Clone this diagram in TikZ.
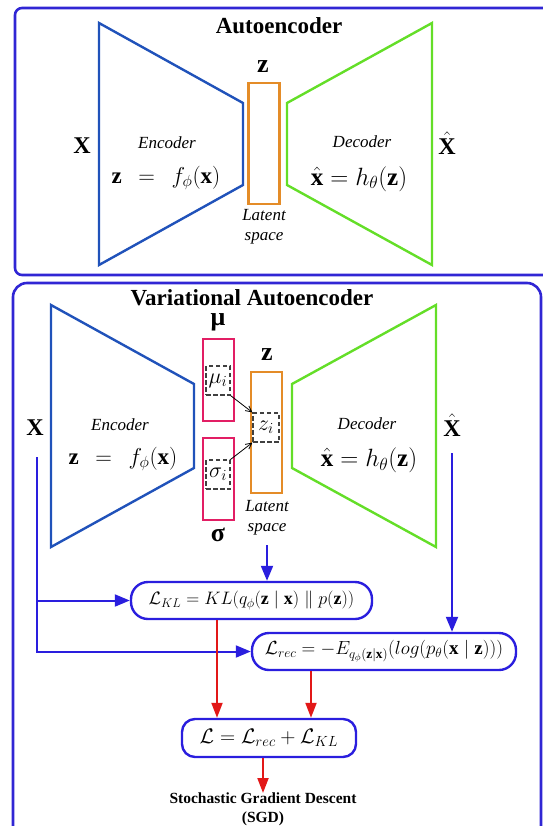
\RequirePackage{fix-cm}
\documentclass[tikz,border=0pt]{standalone}
\usepackage{fontspec}
\setmainfont{Liberation Serif}
\usetikzlibrary{arrows.meta}
\definecolor{framec}{RGB}{48,38,212}
\definecolor{encc}{RGB}{32,82,186}
\definecolor{decc}{RGB}{100,222,40}
\definecolor{latc}{RGB}{228,140,40}
\definecolor{pinkc}{RGB}{226,30,100}
\definecolor{redc}{RGB}{226,24,24}
\definecolor{conc}{RGB}{42,30,222}
\newcommand{\fsz}[1]{\fontsize{#1}{#1}\selectfont}
\tikzset{
  frame/.style={draw=framec, line width=2.6pt},
  encpath/.style={draw=encc, line width=2.4pt, line join=miter},
  decpath/.style={draw=decc, line width=2.4pt, line join=miter},
  latbox/.style={draw=latc, line width=2.4pt, inner sep=0pt, minimum width=31pt, minimum height=121pt},
  pinkbox/.style={draw=pinkc, line width=2.4pt, inner sep=0pt, minimum width=31pt, minimum height=82pt},
  dashbox/.style={draw=black!75, line width=1.1pt, dash pattern=on 4.5pt off 2.5pt, inner sep=0pt, minimum width=24pt, minimum height=29pt, font=\fsz{22}},
  title/.style={font=\bfseries\fsz{23}, inner sep=0pt},
  lab/.style={font=\itshape\fsz{17}, inner sep=0pt},
  formula/.style={font=\fsz{23}, inner sep=0pt},
  decformula/.style={font=\fsz{25}, inner sep=0pt},
  bigx/.style={font=\bfseries\fsz{24}, inner sep=0pt},
  lossbox/.style={draw=conc, line width=2.4pt, rounded corners=17pt, inner sep=0pt, minimum height=37pt, font=\fsz{18}},
  bluearrow/.style={draw=conc, line width=2pt, -{Triangle[length=15pt,width=12pt]}},
  redarrow/.style={draw=redc, line width=2pt, -{Triangle[length=15pt,width=11pt]}},
  thinarrow/.style={draw=black, line width=0.8pt, -{Straight Barb[length=6pt,width=6pt]}}
}
\begin{document}
\begin{tikzpicture}[x=1pt,y=-1pt]
\useasboundingbox (0,0) rectangle (542,826);
% ---------- frames ----------
\draw[frame, rounded corners=7pt] (560,8) -- (15,8) -- (15,275) -- (560,275);
\draw[frame, rounded corners=14pt] (13,850) -- (13,283) -- (541,283) -- (541,850);

% ---------- Autoencoder ----------
\node[title] (aetitle) at (279,26) {Autoencoder};
\draw[encpath] (99,23) -- (243,103) -- (243,185) -- (99,265) -- cycle;
\draw[decpath] (287,103) -- (432,23) -- (432,265) -- (287,185) -- cycle;
\node[latbox] (aelat) at (264,143.5) {};
\node[font=\bfseries\fsz{26}, inner sep=0pt] (aezl) at (263,67) {z};
\node[bigx] (aex) at (82,146) {X};
\node[bigx] (aexh) at (447,143) {$\hat{\textbf{X}}$};
\node[lab] (aeenc) at (167,143) {Encoder};
\node[formula] (aeencf) at (166,178) {$\mathbf{z}\;\,=\;\,f_\phi(\mathbf{x})$};
\node[lab] (aedec) at (362,142) {Decoder};
\node[decformula] (aedecf) at (359,179) {$\hat{\mathbf{x}}=h_\theta(\mathbf{z})$};
\node[lab, align=center] (aelatl) at (264,227) {Latent\\[3pt]space};

% ---------- Variational Autoencoder ----------
\node[title] (vaetitle) at (252,298) {Variational Autoencoder};
\draw[encpath] (51,305) -- (194,384) -- (194,468) -- (51,547) -- cycle;
\draw[decpath] (292,384) -- (436,305) -- (436,547) -- (292,468) -- cycle;
\node[pinkbox] (mubox) at (218.5,380) {};
\node[pinkbox] (sigbox) at (218.5,479) {};
\node[latbox] (vlat) at (266.5,432.5) {};
\node[dashbox] (mui) at (218,380.5) {$\mu_i$};
\node[dashbox] (sigi) at (218,474.5) {$\sigma_i$};
\node[dashbox, minimum width=26pt] (zi) at (266,427.5) {$z_i$};
\draw[thinarrow] (mui.south east) -- (zi.north west);
\draw[thinarrow] (sigi.north east) -- (zi.south west);
\node[font=\bfseries\fsz{26}, inner sep=0pt] (mul) at (218,322) {μ};
\node[font=\bfseries\fsz{26}, inner sep=0pt] (sigl) at (218,535) {σ};
\node[font=\bfseries\fsz{26}, inner sep=0pt] (vzl) at (267,355) {z};
\node[bigx] (vx) at (35,428) {X};
\node[bigx] (vxh) at (452,425) {$\hat{\textbf{X}}$};
\node[lab] (venc) at (120,425) {Encoder};
\node[formula] (vencf) at (123,459) {$\mathbf{z}\;\,=\;\,f_\phi(\mathbf{x})$};
\node[lab] (vdec) at (367,424) {Decoder};
\node[decformula] (vdecf) at (369,460) {$\hat{\mathbf{x}}=h_\theta(\mathbf{z})$};
\node[lab, align=center] (vlatl) at (267,518) {Latent\\[3pt]space};

% ---------- losses ----------
\node[lossbox, minimum width=241pt] (kl) at (251.5,600.5)
  {$\mathcal{L}_{KL}=KL(q_\phi(\mathbf{z}\mid\mathbf{x})\parallel p(\mathbf{z}))$};
\node[lossbox, minimum width=264pt, font=\fsz{19}] (rec) at (384,651.5)
  {$\mathcal{L}_{rec}=-E_{q_\phi(\mathbf{z}|\mathbf{x})}(log(p_\theta(\mathbf{x}\mid\mathbf{z})))$};
\node[lossbox, minimum width=174pt, minimum height=38pt, rounded corners=13pt, font=\fsz{21}] (ltot) at (269,738)
  {$\mathcal{L}=\mathcal{L}_{rec}+\mathcal{L}_{KL}$};
\node[font=\bfseries\fsz{15.5}, align=center, anchor=north, inner sep=0pt] (sgd) at (263,793)
  {Stochastic Gradient Descent\\[3pt](SGD)};

% ---------- connectors ----------
\coordinate (xl) at (37,457);
\coordinate (xr) at (452,453);
\coordinate (lz) at (267,545);
\coordinate (kx) at (217,0);
\coordinate (rx) at (311,0);
\draw[bluearrow] (xl) |- (kl.west);
\draw[bluearrow] (xl) |- (rec.west);
\draw[bluearrow] (xr) -- (rec.north -| xr);
\draw[bluearrow] (lz) -- (kl.north -| lz);
\draw[redarrow] (kl.south -| kx) -- (ltot.north -| kx);
\draw[redarrow] (rec.south -| rx) -- (ltot.north -| rx);
\draw[redarrow] (ltot.south -| sgd.north) -- (sgd.north);
\end{tikzpicture}
\end{document}
